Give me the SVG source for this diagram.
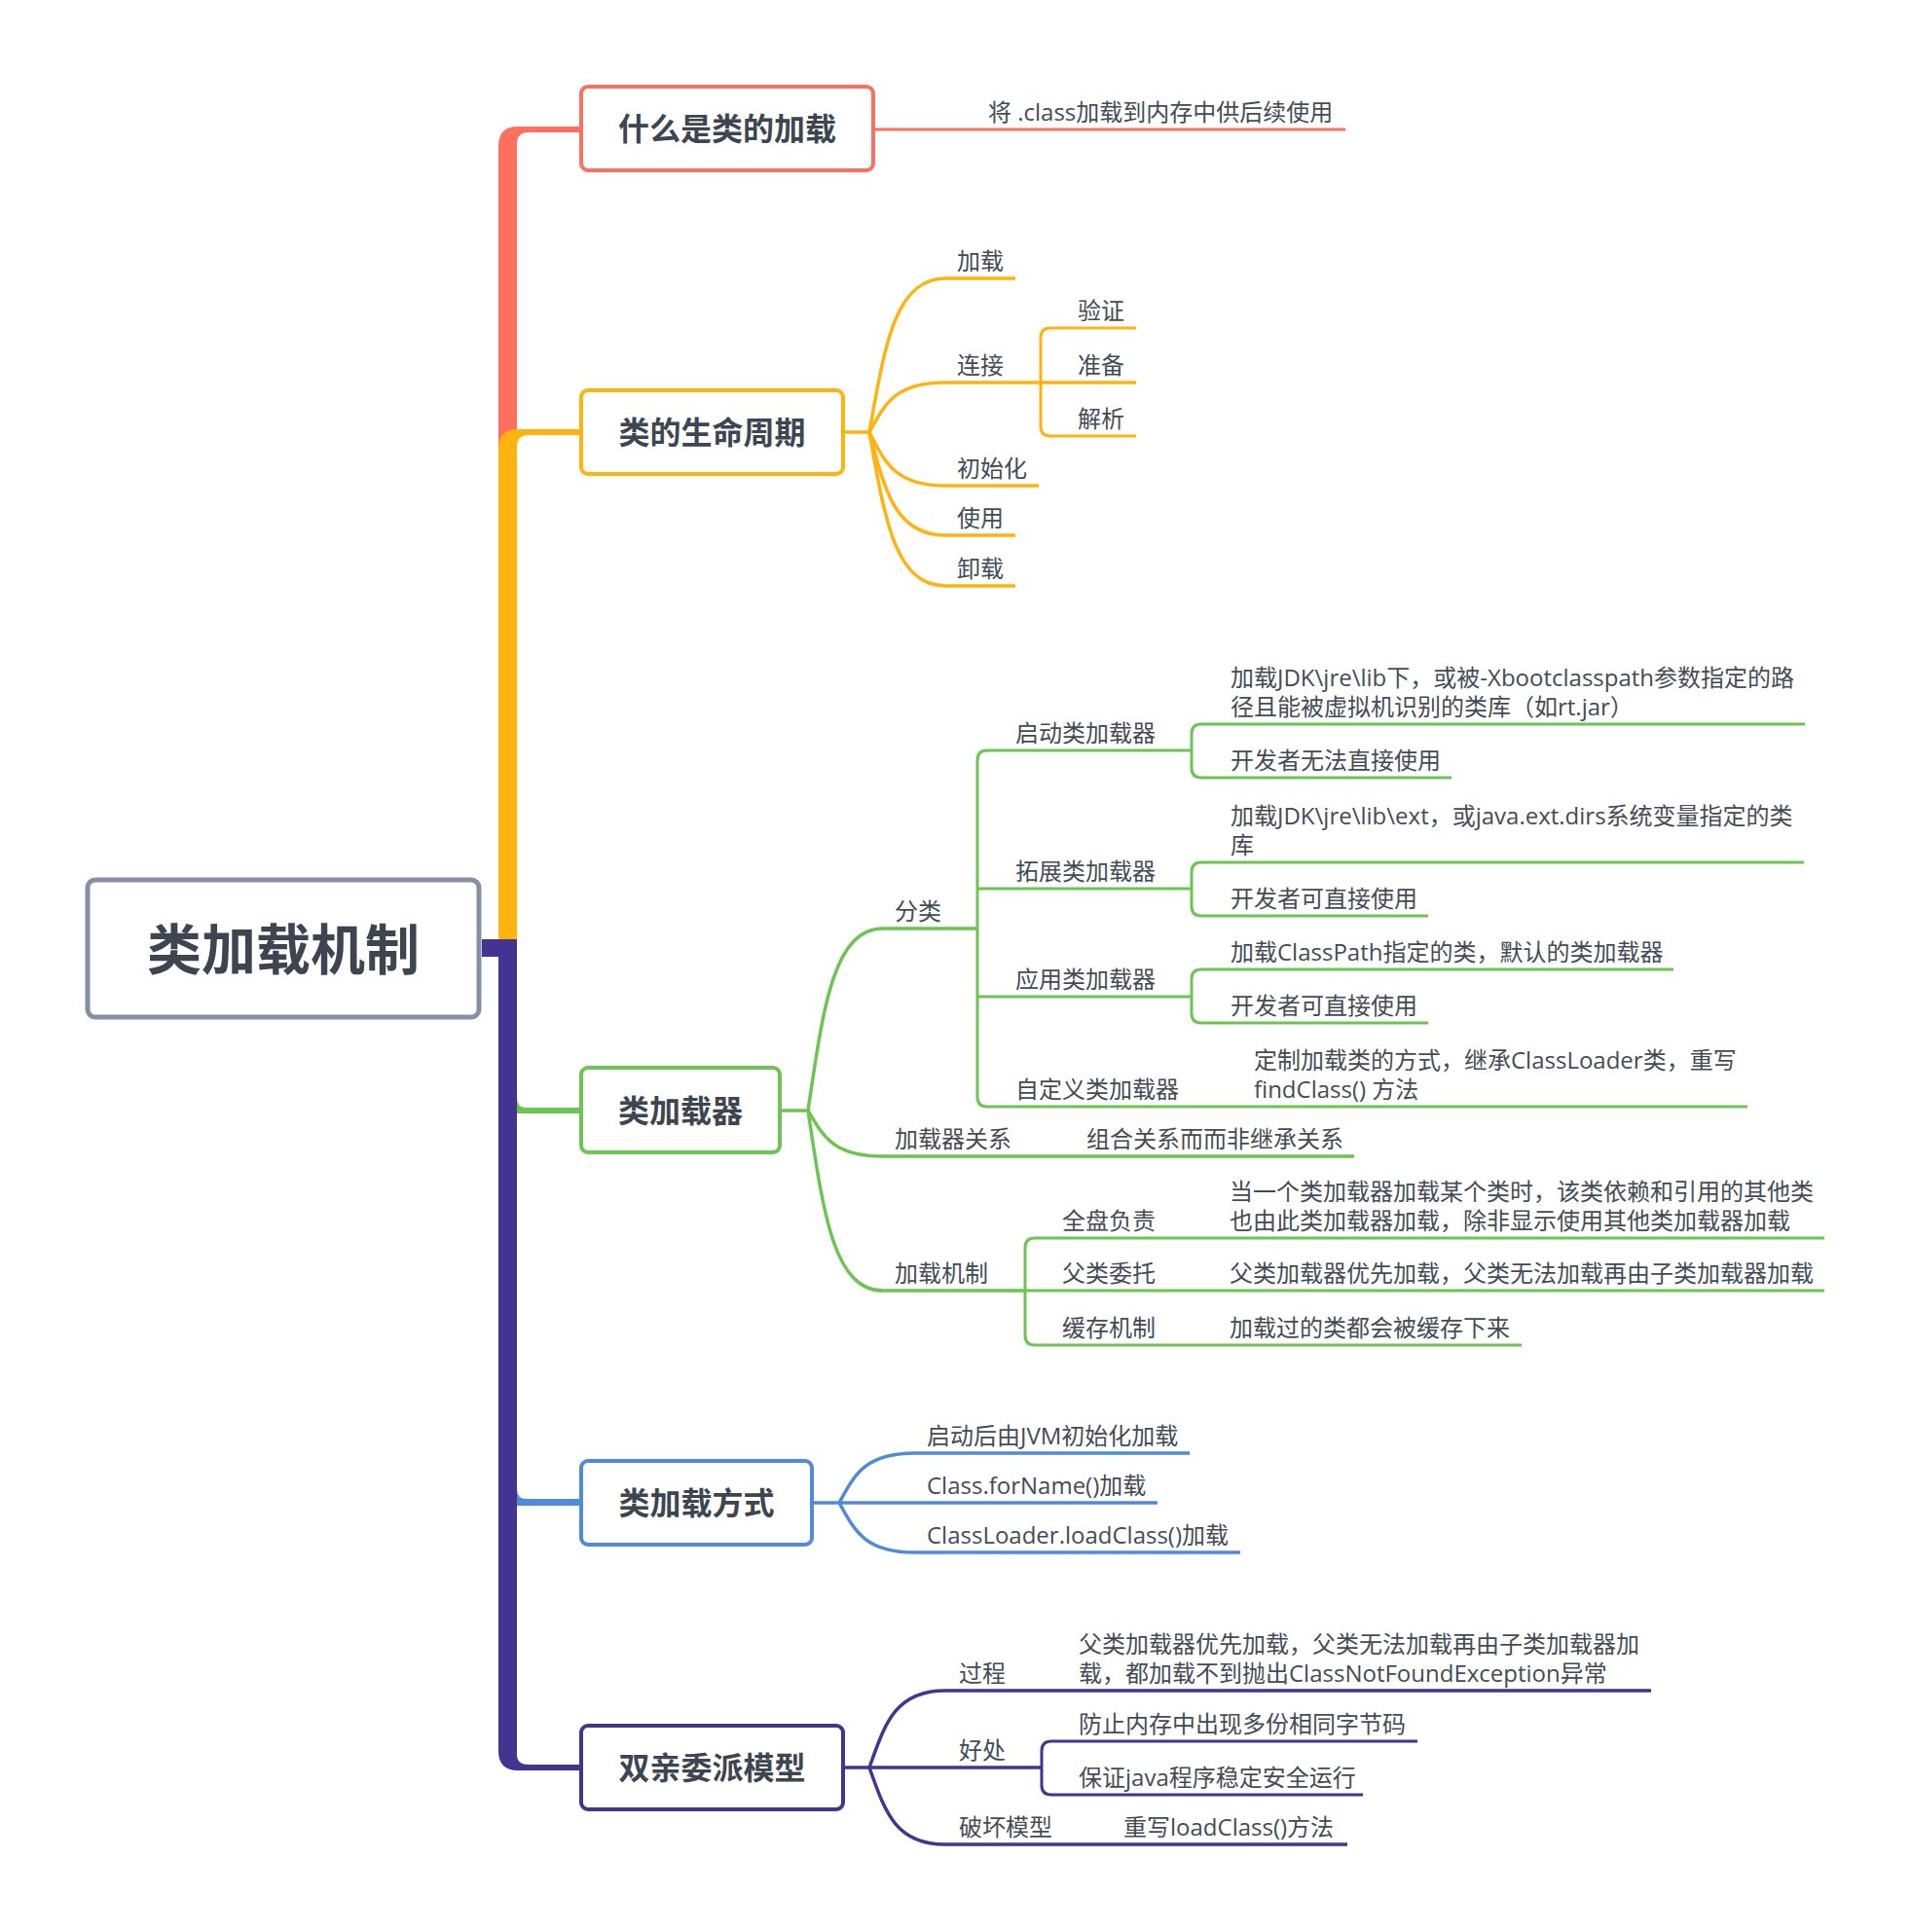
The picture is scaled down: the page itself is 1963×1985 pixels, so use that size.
<svg xmlns="http://www.w3.org/2000/svg" width="1963" height="1985" viewBox="0 0 1963 1985">
<style>
.t{font-family:"Open Sans","Noto Sans CJK SC",sans-serif;font-size:24px;fill:#434c56}
.n{font-family:"Open Sans","Noto Sans CJK SC",sans-serif;font-weight:700;font-size:32px;fill:#3d4650;text-anchor:middle}
.rt{font-size:56px}
.box{fill:#fff;stroke-width:4}
.c{fill:none;stroke-width:3.5;stroke-linecap:butt;stroke-linejoin:round}
.c2{fill:none;stroke-width:3;stroke-linejoin:round}
.red{stroke:#ff6f5e}.org{stroke:#ffb30f}.grn{stroke:#6cc452}.blu{stroke:#4f8bd8}.pur{stroke:#433492}
</style>
<rect width="1963" height="1985" fill="#fff"/>
<g id="connectors">
  <path d="M512,975 V150 Q512,130 532,130 H597 V136 H543 Q531,136 531,148 V975 Z" fill="#ff6f5e"/>
  <path d="M512,975 V461 Q512,441 532,441 H597 V447 H543 Q531,447 531,459 V975 Z" fill="#ffb30f"/>
  <path d="M512,975 H531 V1128 Q531,1138 541,1138 H597 V1144 H512 Z" fill="#6cc452"/>
  <path d="M512,975 H531 V1530 Q531,1540 541,1540 H597 V1547 H512 Z" fill="#4f8bd8"/>
  <path d="M495,965 H531 V1803 Q531,1813 543,1813 H597 V1819 H532 Q512,1819 512,1799 V983 H495 Z" fill="#433492"/>
  <path class="c2 red" d="M897,133 H1382"/>
  <path class="c org" stroke-width="4" d="M866,444 H893"/>
  <path class="c org" d="M893,444 C908.6,357 918.7,286 971,286 H1043"/>
  <path class="c org" d="M893,444 C908.6,416 918.7,393 971,393 H1167"/>
  <path class="c org" d="M893,444 C908.6,474 918.7,499 971,499 H1067"/>
  <path class="c org" d="M893,444 C908.6,502 918.7,550 971,550 H1043"/>
  <path class="c org" d="M893,444 C908.6,531 918.7,602 971,602 H1043"/>
  <path class="c2 org" d="M1167,337 H1079 Q1069,337 1069,347 V438 Q1069,448 1079,448 H1167"/>
  <path class="c grn" stroke-width="4" d="M801,1141 H830"/>
  <path class="c grn" d="M830,1141 C845.4,1038 855.4,954 907,954 H1004"/>
  <path class="c grn" d="M830,1141 C845.4,1167 855.4,1188 907,1188 H1391"/>
  <path class="c grn" d="M830,1141 C845.4,1243 855.4,1326 907,1326 H1053"/>
  <path class="c2 grn" d="M1224,771 H1014 Q1004,771 1004,781 V1127 Q1004,1137 1014,1137 H1795"/>
  <path class="c2 grn" d="M1004,913 H1224"/>
  <path class="c2 grn" d="M1004,1024 H1224"/>
  <path class="c2 grn" d="M1854,744 H1234 Q1224,744 1224,754 V789 Q1224,799 1234,799 H1491"/>
  <path class="c2 grn" d="M1853,886 H1234 Q1224,886 1224,896 V931 Q1224,941 1234,941 H1467"/>
  <path class="c2 grn" d="M1719,996 H1234 Q1224,996 1224,1006 V1041 Q1224,1051 1234,1051 H1467"/>
  <path class="c2 grn" d="M1874,1272 H1063 Q1053,1272 1053,1282 V1372 Q1053,1382 1063,1382 H1563"/>
  <path class="c2 grn" d="M1053,1326 H1874"/>
  <path class="c blu" stroke-width="4" d="M834,1544 H862"/>
  <path class="c blu" d="M862,1544 C877.6,1516 887.7,1493 940,1493 H1222"/>
  <path class="c blu" d="M862,1544 H1189"/>
  <path class="c blu" d="M862,1544 C877.6,1572 887.7,1595 940,1595 H1274"/>
  <path class="c pur" stroke-width="4" d="M866,1816 H893"/>
  <path class="c pur" d="M893,1816 C908.6,1772.5 918.7,1737 971,1737 H1696"/>
  <path class="c pur" d="M893,1816 H1070"/>
  <path class="c pur" d="M893,1816 C908.6,1859.5 918.7,1895 971,1895 H1384"/>
  <path class="c2 pur" d="M1456,1789 H1080 Q1070,1789 1070,1799 V1834 Q1070,1844 1080,1844 H1400"/>
</g>
<g id="root">
  <rect x="90" y="904" width="402" height="141" rx="8" fill="#fff" stroke="#8690a3" stroke-width="5"/>
  <text class="n rt" x="291" y="996">类加载机制</text>
</g>
<g id="n-what">
  <rect class="box red" x="597" y="89" width="300" height="86" rx="7"/>
  <text class="n" x="747" y="144">什么是类的加载</text>
  <text class="t" x="1015" y="124">将 .class加载到内存中供后续使用</text>
</g>
<g id="n-life">
  <rect class="box org" x="597" y="401" width="269" height="86" rx="7"/>
  <text class="n" x="731.5" y="456">类的生命周期</text>
  <text class="t" x="983" y="277">加载</text>
  <text class="t" x="983" y="384">连接</text>
  <text class="t" x="1107" y="328">验证</text>
  <text class="t" x="1107" y="384">准备</text>
  <text class="t" x="1107" y="439">解析</text>
  <text class="t" x="983" y="490">初始化</text>
  <text class="t" x="983" y="541">使用</text>
  <text class="t" x="983" y="593">卸载</text>
</g>
<g id="n-loader">
  <rect class="box grn" x="597" y="1097" width="204" height="87" rx="7"/>
  <text class="n" x="699" y="1153">类加载器</text>
  <text class="t" x="919" y="945">分类</text>
  <text class="t" x="1043" y="762">启动类加载器</text>
  <text class="t" x="1264" y="705">加载JDK\jre\lib下，或被-Xbootclasspath参数指定的路</text>
  <text class="t" x="1264" y="735">径且能被虚拟机识别的类库（如rt.jar）</text>
  <text class="t" x="1264" y="790">开发者无法直接使用</text>
  <text class="t" x="1043" y="904">拓展类加载器</text>
  <text class="t" x="1264" y="847">加载JDK\jre\lib\ext，或java.ext.dirs系统变量指定的类</text>
  <text class="t" x="1264" y="877">库</text>
  <text class="t" x="1264" y="932">开发者可直接使用</text>
  <text class="t" x="1043" y="1015">应用类加载器</text>
  <text class="t" x="1264" y="987">加载ClassPath指定的类，默认的类加载器</text>
  <text class="t" x="1264" y="1042">开发者可直接使用</text>
  <text class="t" x="1043" y="1128">自定义类加载器</text>
  <text class="t" x="1288" y="1098">定制加载类的方式，继承ClassLoader类，重写</text>
  <text class="t" x="1288" y="1128">findClass() 方法</text>
  <text class="t" x="919" y="1179">加载器关系</text>
  <text class="t" x="1116" y="1179">组合关系而而非继承关系</text>
  <text class="t" x="919" y="1317">加载机制</text>
  <text class="t" x="1091" y="1263">全盘负责</text>
  <text class="t" x="1263" y="1233">当一个类加载器加载某个类时，该类依赖和引用的其他类</text>
  <text class="t" x="1263" y="1263">也由此类加载器加载，除非显示使用其他类加载器加载</text>
  <text class="t" x="1091" y="1317">父类委托</text>
  <text class="t" x="1263" y="1317">父类加载器优先加载，父类无法加载再由子类加载器加载</text>
  <text class="t" x="1091" y="1373">缓存机制</text>
  <text class="t" x="1263" y="1373">加载过的类都会被缓存下来</text>
</g>
<g id="n-way">
  <rect class="box blu" x="597" y="1501" width="237" height="86" rx="7"/>
  <text class="n" x="715.5" y="1556">类加载方式</text>
  <text class="t" x="952" y="1484">启动后由JVM初始化加载</text>
  <text class="t" x="952" y="1535">Class.forName()加载</text>
  <text class="t" x="952" y="1586">ClassLoader.loadClass()加载</text>
</g>
<g id="n-parent">
  <rect class="box pur" x="597" y="1773" width="269" height="86" rx="7"/>
  <text class="n" x="731.5" y="1828">双亲委派模型</text>
  <text class="t" x="985" y="1728">过程</text>
  <text class="t" x="1108" y="1698">父类加载器优先加载，父类无法加载再由子类加载器加</text>
  <text class="t" x="1108" y="1728">载，都加载不到抛出ClassNotFoundException异常</text>
  <text class="t" x="985" y="1807">好处</text>
  <text class="t" x="1108" y="1780">防止内存中出现多份相同字节码</text>
  <text class="t" x="1108" y="1835">保证java程序稳定安全运行</text>
  <text class="t" x="985" y="1886">破坏模型</text>
  <text class="t" x="1154" y="1886">重写loadClass()方法</text>
</g>
</svg>
